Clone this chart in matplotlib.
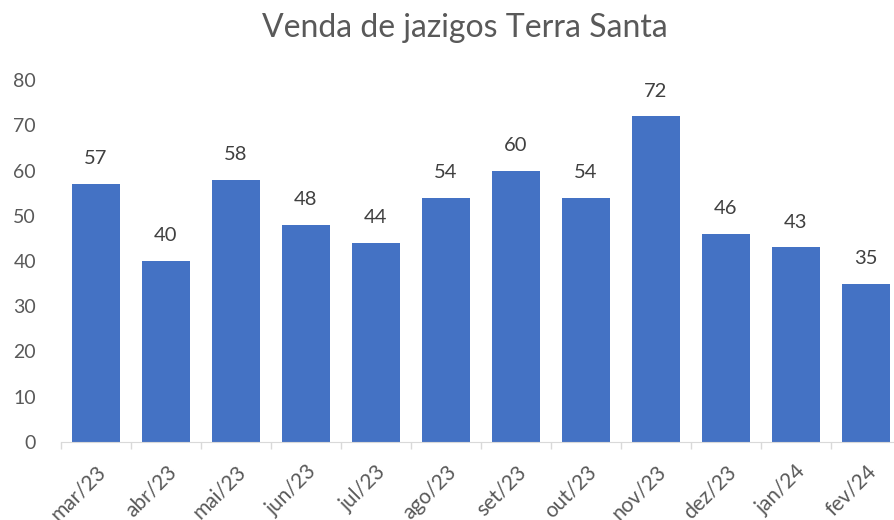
import matplotlib.pyplot as plt
import numpy as np

meses = ['mar/23', 'abr/23', 'mai/23', 'jun/23', 'jul/23', 'ago/23',
         'set/23', 'out/23', 'nov/23', 'dez/23', 'jan/24', 'fev/24']
vendas = [57, 40, 58, 48, 44, 54, 60, 54, 72, 46, 43, 35]
yticks = [0, 10, 20, 30, 40, 50, 60, 70, 80]

plt.rcParams['font.family'] = ['Lato', 'DejaVu Sans']

fig = plt.figure(figsize=(8.94, 5.2), dpi=100)
# plot area is wider than the picture: the right side is cropped like the original
ax = fig.add_axes([61 / 894, 78 / 520, 840 / 894, 362 / 520])

x = np.arange(len(meses))
ax.bar(x, vendas, width=0.68, color='#4472C4')

for xi, v in zip(x, vendas):
    ax.annotate(str(v), (xi, v), xytext=(0, 12), textcoords='offset points',
                ha='center', va='bottom', fontsize=14.5, color='#404040')

ax.set_xlim(-0.5, len(meses) - 0.5)
ax.set_ylim(0, 80)
ax.set_yticks(yticks)
ax.set_xticks(x)
ax.set_xticklabels(meses, rotation=45, ha='right', rotation_mode='anchor')
ax.set_xticks(np.arange(-0.5, len(meses), 1), minor=True)

ax.tick_params(axis='y', length=0, labelsize=14, labelcolor='#595959', pad=18)
ax.tick_params(axis='x', which='major', length=0, labelsize=15,
               labelcolor='#595959', pad=14)
ax.tick_params(axis='x', which='minor', length=5, color='#D9D9D9', width=1)

for s in ['top', 'right', 'left']:
    ax.spines[s].set_visible(False)
ax.spines['bottom'].set_color('#D9D9D9')

fig.text(465 / 894, 1 - 28 / 520, 'Venda de jazigos Terra Santa',
         ha='center', va='center', fontsize=23, color='#595959')

fig.savefig('out.png', dpi=100)
plt.close()
